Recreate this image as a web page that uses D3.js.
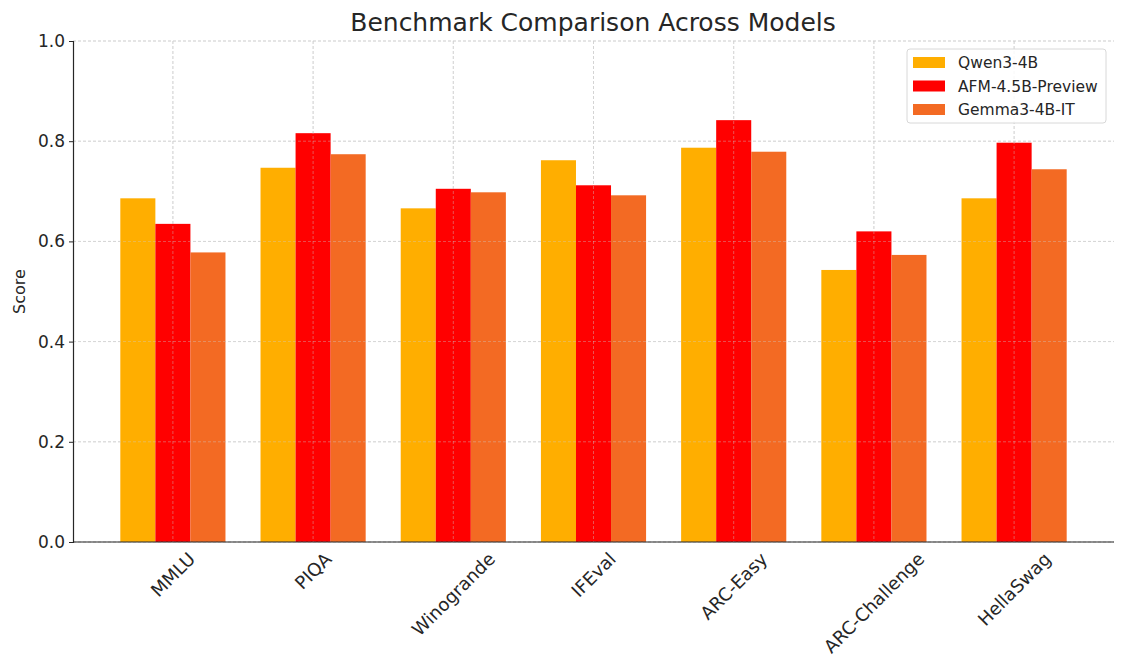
<!DOCTYPE html>
<html>
<head>
<meta charset="utf-8">
<script src="https://cdn.jsdelivr.net/npm/d3@7"></script>
<style>
  body { margin: 0; background: #fff; }
  text { font-family: "DejaVu Sans", sans-serif; fill: #262626; }
</style>
</head>
<body>
<svg id="chart"></svg>
<script>
const benchmarks = ["MMLU", "PIQA", "Winogrande", "IFEval", "ARC-Easy", "ARC-Challenge", "HellaSwag"];
const models = ["Qwen3-4B", "AFM-4.5B-Preview", "Gemma3-4B-IT"];
const qwen = [0.686, 0.747, 0.666, 0.762, 0.787, 0.543, 0.686];
const afm = [0.635, 0.816, 0.705, 0.712, 0.842, 0.620, 0.797];
const gemma = [0.578, 0.774, 0.698, 0.692, 0.779, 0.573, 0.744];
const colors = ["#FFAE00", "#FF0000", "#F36A23"];
const yTicks = [0, 0.2, 0.4, 0.6, 0.8, 1.0];

const series = [qwen, afm, gemma];
const width = 1125, height = 671;
const margin = {top: 41, right: 11, bottom: 129, left: 73};
const plotW = width - margin.left - margin.right;
const plotH = height - margin.top - margin.bottom;

const svg = d3.select("#chart").attr("width", width).attr("height", height);
const g = svg.append("g").attr("transform", `translate(${margin.left},${margin.top})`);

// bars 0.25 wide, 5% margin each side like matplotlib
const barW = 0.25;
const lo = -1.5 * barW, hi = benchmarks.length - 1 + 1.5 * barW;
const pad = (hi - lo) * 0.05;
const x = d3.scaleLinear().domain([lo - pad, hi + pad]).range([0, plotW]);
const y = d3.scaleLinear().domain([0, 1]).range([plotH, 0]);

function grid(sel, op) {
  sel.append("g").selectAll("line").data(yTicks).join("line")
    .attr("x1", 0).attr("x2", plotW)
    .attr("y1", d => y(d)).attr("y2", d => y(d))
    .attr("stroke", "#cfcfcf").attr("stroke-width", 0.8).attr("stroke-dasharray", "3,2").attr("opacity", op);
  sel.append("g").selectAll("line").data(benchmarks).join("line")
    .attr("x1", (d, i) => x(i)).attr("x2", (d, i) => x(i))
    .attr("y1", 0).attr("y2", plotH)
    .attr("stroke", "#cfcfcf").attr("stroke-width", 0.8).attr("stroke-dasharray", "3,2").attr("opacity", op);
}
grid(g, 1);

// bars
series.forEach((vals, s) => {
  g.append("g").selectAll("rect").data(vals).join("rect")
    .attr("x", (d, i) => x(i + (s - 1.5) * barW))
    .attr("width", x(barW) - x(0))
    .attr("y", d => y(d))
    .attr("height", d => plotH - y(d))
    .attr("fill", colors[s]);
});
grid(g, 0.5);

// y axis
const yAxis = g.append("g")
  .call(d3.axisLeft(y).tickValues(yTicks).tickFormat(d3.format(".1f")).tickSize(4).tickPadding(4));
yAxis.select(".domain").attr("stroke", "#262626").attr("stroke-width", 1.2);
yAxis.selectAll(".tick line").attr("stroke", "#262626");
yAxis.selectAll("text").style("font-size", "17px").attr("fill", "#262626");

// x axis
g.append("line").attr("x1", 0).attr("x2", plotW).attr("y1", plotH).attr("y2", plotH)
  .attr("stroke", "#262626").attr("stroke-width", 1.2);
const xl = g.append("g").selectAll("text").data(benchmarks).join("text")
  .style("font-size", "18px")
  .attr("text-anchor", "middle")
  .attr("dominant-baseline", "central")
  .text(d => d);
xl.each(function(d, i) {
  const w = this.getComputedTextLength();
  const h = (w + 16) * Math.SQRT1_2;
  d3.select(this).attr("transform", `translate(${x(i)},${plotH + 8 + h / 2}) rotate(-45)`);
});

// labels
svg.append("text").attr("x", 593).attr("y", 31)
  .attr("text-anchor", "middle").style("font-size", "25px").text("Benchmark Comparison Across Models");
svg.append("text").attr("transform", `translate(25,${margin.top + plotH / 2}) rotate(-90)`)
  .attr("text-anchor", "middle").style("font-size", "16px").text("Score");

// legend
const lg = svg.append("g").attr("transform", "translate(907,49)");
lg.append("rect").attr("width", 199).attr("height", 74).attr("rx", 3)
  .attr("fill", "#fff").attr("fill-opacity", 0.85).attr("stroke", "#d8d8d8");
models.forEach((m, i) => {
  lg.append("rect").attr("x", 6).attr("y", 8 + i * 23.5).attr("width", 32).attr("height", 11).attr("fill", colors[i]);
  lg.append("text").attr("x", 51).attr("y", 14 + i * 23.5).attr("dominant-baseline", "central")
    .style("font-size", "15.5px").text(m);
});
</script>
</body>
</html>
